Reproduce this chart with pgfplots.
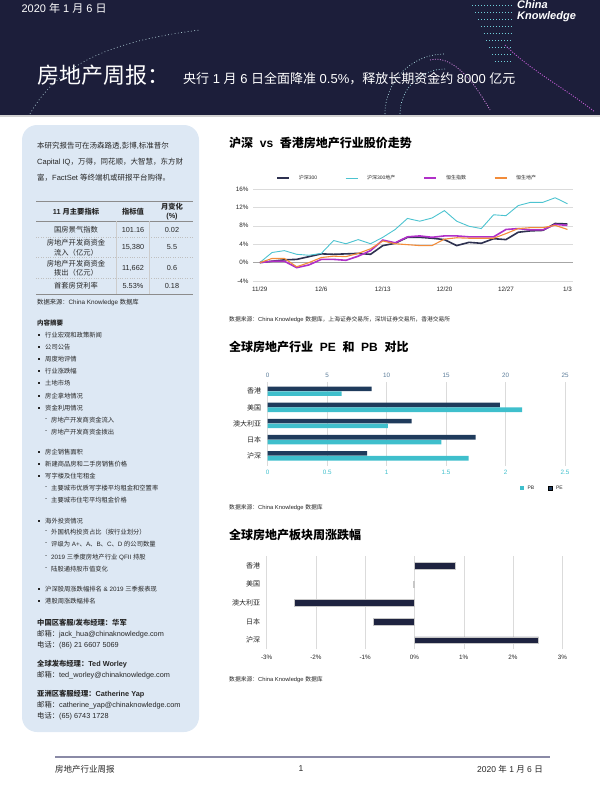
\documentclass[border=0pt]{standalone}
\usepackage{fontspec}
\setmainfont{Liberation Sans}
\newfontfamily\cjk{Noto Sans CJK SC}
\usepackage{pgfplots}
\pgfplotsset{compat=1.18}

% switch to the CJK font for runs of Chinese characters
\newXeTeXintercharclass\cjkcls
\newcount\cc
\def\setcls#1#2{\cc=#1 \loop\XeTeXcharclass\cc=\cjkcls\advance\cc by 1 \ifnum\cc<#2 \repeat}
\setcls{"3000}{"3040}
\setcls{"4E00}{"A000}
\setcls{"FF00}{"FFF0}
\XeTeXinterchartoks 0 \cjkcls={\begingroup\cjk}
\XeTeXinterchartoks 4095 \cjkcls={\begingroup\cjk}
\XeTeXinterchartoks \cjkcls 0={\endgroup}
\XeTeXinterchartoks \cjkcls 4095={\endgroup}

\newcommand\fs[2]{\fontsize{#1}{#2}\selectfont}

\definecolor{hdr}{HTML}{1C1E3A}
\definecolor{panel}{HTML}{DDE8F4}
\definecolor{txt}{HTML}{262626}
\definecolor{hs300}{HTML}{2E3150}
\definecolor{hsre}{HTML}{4CC3D0}
\definecolor{hsi}{HTML}{B030C8}
\definecolor{hsp}{HTML}{F28C3A}
\definecolor{pe}{HTML}{1F3B5C}
\definecolor{pb}{HTML}{3FBFCC}
\definecolor{wk}{HTML}{1E2340}
\definecolor{topblue}{HTML}{5B7C99}
\definecolor{foot}{HTML}{8A8AA6}

\begin{document}
\XeTeXinterchartokenstate=1
\begin{tikzpicture}
\useasboundingbox (0,0) rectangle (600pt,-800pt);
\begin{scope}[x=1pt,y=-1pt]
  % header band
  \fill[hdr] (0,0) rectangle (600,115);
  \fill[black!18] (0,115) rectangle (600,117);
  \foreach \yy in {6,13,20,27,34,41,48,55,62}
    \draw[hsre!80, line width=1pt, dash pattern=on 1pt off 2pt] (470+\yy*0.4,\yy) -- (512,\yy);
  \draw[hsi!80, line width=0.9pt, dash pattern=on 1pt off 1.5pt] (505,45) .. controls (530,70) and (560,85) .. (595,112);
  \draw[hsi!60, line width=0.8pt, dash pattern=on 1pt off 1.5pt] (430,60) .. controls (450,55) and (470,75) .. (490,110);
  \draw[hsre!50, line width=0.7pt, dash pattern=on 0.8pt off 2pt] (400,114) arc (180:270:45);
  \draw[hsre!40, line width=0.7pt, dash pattern=on 0.8pt off 2pt] (385,114) arc (180:270:60);
  \draw[hsre!30, line width=0.6pt, dash pattern=on 0.8pt off 2.5pt] (30,114) .. controls (60,60) and (120,40) .. (200,30);
  \node[anchor=west, text=white, font=\fs{11}{12}] at (18,8) {2020 年 1 月 6 日};
  \node[anchor=west, text=white, font=\fs{11}{11}\bfseries\itshape, inner sep=0] at (517,4.5) {China};
  \node[anchor=west, text=white, font=\fs{11}{11}\bfseries\itshape, inner sep=0] at (517,17) {Knowledge};
  \node[anchor=base west, text=white, font=\fs{22}{24}, inner sep=0] at (37,84) {房地产周报：};
  \node[anchor=base west, text=white, font=\fs{13}{14}, inner sep=0] at (183,83) {央行 1 月 6 日全面降准 0.5\%，释放长期资金约 8000 亿元};

  % left panel
  \fill[panel, rounded corners=15pt] (22,125) rectangle (199,732);
  \begin{scope}[every node/.style={anchor=west, inner sep=0, text=txt}]
    \node[font=\fs{7.5}{9}] at (37,146) {本研究报告可在汤森路透,彭博,标准普尔};
    \node[font=\fs{7.5}{9}] at (37,162) {Capital IQ，万得，同花顺，大智慧，东方财};
    \node[font=\fs{7.5}{9}] at (37,178) {富，FactSet 等终端机或研报平台购得。};
  \end{scope}
  % table
  \draw[black!45, line width=0.8pt] (36,201) -- (193,201);
  \draw[black!45, line width=0.8pt] (36,221) -- (193,221);
  \draw[black!45, line width=1pt] (36,294) -- (193,294);
  \foreach \yy in {237,257,278} \draw[black!25, dotted] (36,\yy) -- (193,\yy);
  \draw[black!20] (116,221) -- (116,294);
  \draw[black!20] (149,221) -- (149,294);
  \begin{scope}[every node/.style={inner sep=0, text=txt, align=center, font=\fs{7.3}{9.5}}]
    \node[font=\fs{7.3}{9.5}\bfseries] at (76,212) {11 月主要指标};
    \node[font=\fs{7.3}{9.5}\bfseries] at (133,212) {指标值};
    \node[font=\fs{7.3}{9.5}\bfseries] at (172,211.5) {月变化\\(\%)};
    \node at (76,230) {国房景气指数};
    \node at (133,230) {101.16};
    \node at (172,230) {0.02};
    \node at (76,247.5) {房地产开发商资金\\流入（亿元）};
    \node at (133,247.5) {15,380};
    \node at (172,247.5) {5.5};
    \node at (76,268) {房地产开发商资金\\拨出（亿元）};
    \node at (133,268) {11,662};
    \node at (172,268) {0.6};
    \node at (76,286) {首套房贷利率};
    \node at (133,286) {5.53\%};
    \node at (172,286) {0.18};
  \end{scope}
  \begin{scope}[every node/.style={anchor=west, inner sep=0, text=txt, font=\fs{6.3}{8}}]
    \node at (37,303) {数据来源：China Knowledge 数据库};
    \node[font=\fs{6.5}{8}\bfseries] at (37,323) {内容摘要};
    \foreach \yy/\tt in {335/行业宏观和政策新闻, 347/公司公告, 359/周度地评情, 371/行业涨跌幅,
        383/土地市场, 396/房企拿地情况, 408/资金利用情况, 452/房企销售面积,
        464/新建商品房和二手房销售价格, 476/写字楼及住宅租金, 521/海外投资情况,
        589/沪深股周涨跌幅排名 \& 2019 三季报表现, 601/港股周涨跌幅排名} {
      \fill[txt] (38,\yy-1) rectangle ++(2,2);
      \node at (45,\yy) {\tt};
    }
    \foreach \yy/\tt in {420/房地产开发商资金流入, 432/房地产开发商资金拨出,
        488/主要城市优质写字楼平均租金和空置率, 500/主要城市住宅平均租金价格,
        532/外国机构投资占比（按行业划分）, 544/评级为 A+、A、B、C、D 的公司数量,
        557/2019 三季度房地产行业 QFII 持股, 569/陆股通持股市值变化} {
      \node at (45,\yy) {-};
      \node at (51,\yy) {\tt};
    }
  \end{scope}
  \begin{scope}[every node/.style={anchor=west, inner sep=0, text=txt, font=\fs{7.3}{9}}]
    \node[font=\fs{7.3}{9}\bfseries] at (37,623) {中国区客服/发布经理：华军};
    \node at (37,634) {邮箱：jack\_hua@chinaknowledge.com};
    \node at (37,645) {电话：(86) 21 6607 5069};
    \node[font=\fs{7.3}{9}\bfseries] at (37,664) {全球发布经理：Ted Worley};
    \node at (37,675) {邮箱：ted\_worley@chinaknowledge.com};
    \node[font=\fs{7.3}{9}\bfseries] at (37,694) {亚洲区客服经理：Catherine Yap};
    \node at (37,705) {邮箱：catherine\_yap@chinaknowledge.com};
    \node at (37,716) {电话：(65) 6743 1728};
  \end{scope}

  % section titles and sources
  \begin{scope}[every node/.style={anchor=west, inner sep=0, text=black}]
    \node[font=\fs{12}{14}\bfseries] at (229,143) {沪深 \ vs \ 香港房地产行业股价走势};
    \node[font=\fs{12}{14}\bfseries] at (229,347) {全球房地产行业 \ PE \ 和 \ PB \ 对比};
    \node[font=\fs{12}{14}\bfseries] at (229,535) {全球房地产板块周涨跌幅};
    \node[font=\fs{5.8}{7}, text=txt] at (229,320) {数据来源：China Knowledge 数据库，上海证券交易所，深圳证券交易所，香港交易所};
    \node[font=\fs{5.8}{7}, text=txt] at (229,508) {数据来源：China Knowledge 数据库};
    \node[font=\fs{5.8}{7}, text=txt] at (229,680) {数据来源：China Knowledge 数据库};
  \end{scope}

  % footer
  \draw[foot, line width=1.2pt] (55,757) -- (550,757);
  \node[anchor=west, inner sep=0, text=txt, font=\fs{8.5}{10}] at (55,769) {房地产行业周报};
  \node[inner sep=0, text=txt, font=\fs{8.5}{10}] at (301,769) {1};
  \node[anchor=east, inner sep=0, text=txt, font=\fs{8.5}{10}] at (543,769) {2020 年 1 月 6 日};
\end{scope}

% line chart
\begin{axis}[
  at={(253pt,-281pt)}, anchor=south west, scale only axis,
  width=320pt, height=92pt,
  xmin=-0.55, xmax=25.45, ymin=-4, ymax=16,
  axis line style={draw=none}, major tick length=0pt,
  ymajorgrids, grid style={color=black!14, line width=0.5pt},
  ytick={-4,0,4,8,12,16}, yticklabels={-4\%,0\%,4\%,8\%,12\%,16\%},
  xtick={0,5,10,15,20,25}, xticklabels={11/29,12/6,12/13,12/20,12/27,1/3},
  tick label style={font=\fs{6.3}{7}, text=txt},
  yticklabel style={xshift=-1pt},
  xticklabel style={yshift=-2pt},
  extra y ticks={0}, extra y tick labels={},
  extra y tick style={grid style={color=black!35, line width=0.6pt}},
  legend columns=4,
  legend image code/.code={\draw[#1] (0pt,0pt) -- (12pt,0pt);},
  legend style={at={(rel axis cs:0.072,1)}, anchor=south west, yshift=6pt,
    draw=none, fill=none, font=\fs{5}{6}, text=txt, inner sep=0pt,
    /tikz/every odd column/.append style={column sep=7pt},
    /tikz/every even column/.append style={column sep=26pt}},
]
\addplot[hs300, line width=1.6pt] coordinates {
(0,0) (1,0.3) (2,0.6) (3,0.7) (4,1.3) (5,1.9) (6,1.8) (7,1.9) (8,2.0) (9,1.8)
(10,3.7) (11,4.2) (12,5.5) (13,5.5) (14,5.3) (15,5.0) (16,3.7) (17,4.4) (18,4.2)
(19,5.2) (20,5.0) (21,6.6) (22,6.9) (23,7.0) (24,8.5) (25,8.4)};
\addlegendentry{沪深300}
\addplot[hsre, line width=0.9pt] coordinates {
(0,0) (1,2.2) (2,2.6) (3,1.8) (4,1.6) (5,2.0) (6,4.8) (7,4.1) (8,5.0) (9,4.1)
(10,5.5) (11,7.2) (12,9.6) (13,9.0) (14,9.7) (15,11.3) (16,9.0) (17,7.9) (18,7.4)
(19,10.4) (20,10.2) (21,12.4) (22,13.1) (23,13.1) (24,14.1) (25,12.8)};
\addlegendentry{沪深300地产}
\addplot[hsi, line width=1.6pt] coordinates {
(0,0) (1,0.3) (2,0.3) (3,-1.1) (4,-0.5) (5,0.7) (6,0.7) (7,0.5) (8,1.4) (9,2.6)
(10,4.9) (11,4.3) (12,5.6) (13,5.8) (14,5.5) (15,5.8) (16,5.8) (17,5.6) (18,5.6)
(19,5.6) (20,7.2) (21,7.4) (22,7.1) (23,7.1) (24,8.3) (25,8.1)};
\addlegendentry{恒生指数}
\addplot[hsp, line width=1.1pt] coordinates {
(0,0) (1,0.9) (2,0.9) (3,-0.9) (4,0.0) (5,1.1) (6,1.4) (7,1.3) (8,2.0) (9,3.0)
(10,4.7) (11,4.1) (12,3.9) (13,3.7) (14,3.7) (15,5.1) (16,5.4) (17,5.3) (18,5.3)
(19,5.3) (20,6.3) (21,7.4) (22,7.6) (23,7.6) (24,8.1) (25,7.2)};
\addlegendentry{恒生地产}
\end{axis}

% PE (top axis)
\begin{axis}[
  at={(267.7pt,-465.5pt)}, anchor=south west, scale only axis,
  width=297.3pt, height=84pt,
  xmin=0, xmax=25, ymin=-0.6, ymax=4.6,
  axis x line*=top, axis y line*=left,
  axis line style={draw=none}, major tick length=0pt,
  xmajorgrids, grid style={color=black!14, line width=0.5pt},
  xtick={0,5,10,15,20,25}, xticklabels={0,5,10,15,20,25},
  ytick={0,1,2,3,4}, yticklabels={沪深,日本,澳大利亚,美国,香港},
  xticklabel style={font=\fs{6.3}{7}, text=topblue},
  yticklabel style={font=\fs{7}{8}, text=txt, xshift=-3pt},
  xbar, bar width=4.6pt,
]
\addplot[fill=pe, draw=none, bar shift=2.4pt] coordinates {
(8.74,4) (19.53,3) (12.1,2) (17.49,1) (8.35,0)};
\end{axis}

% PB (bottom axis)
\begin{axis}[
  at={(267.7pt,-465.5pt)}, anchor=south west, scale only axis,
  width=297.3pt, height=84pt,
  xmin=0, xmax=2.5, ymin=-0.6, ymax=4.6,
  axis x line*=bottom, axis y line=none,
  axis line style={draw=none}, major tick length=0pt,
  xtick={0,0.5,1,1.5,2,2.5}, xticklabels={0,0.5,1,1.5,2,2.5},
  xticklabel style={font=\fs{6.3}{7}, text=pb, yshift=-1pt},
  xbar, bar width=4.6pt,
  legend columns=2,
  legend image code/.code={\fill[#1] (0pt,-2pt) rectangle (4pt,2pt);},
  legend style={at={(rel axis cs:1,0)}, anchor=north east, yshift=-18pt,
    draw=none, fill=none, font=\fs{5}{6}, text=txt, inner sep=0pt,
    /tikz/every odd column/.append style={column sep=1.5pt},
    /tikz/every even column/.append style={column sep=12pt}},
]
\addplot[fill=pb, draw=none, bar shift=-2.4pt] coordinates {
(0.622,4) (2.14,3) (1.01,2) (1.46,1) (1.69,0)};
\addlegendentry{PB}
\addlegendimage{fill=pe}
\addlegendentry{PE}
\end{axis}

% weekly change
\begin{axis}[
  at={(266.7pt,-649.4pt)}, anchor=south west, scale only axis,
  width=295.6pt, height=93pt,
  xmin=-3, xmax=3, ymin=-0.5, ymax=4.5,
  axis line style={draw=none}, major tick length=0pt,
  xmajorgrids, grid style={color=black!14, line width=0.5pt},
  xtick={-3,-2,-1,0,1,2,3}, xticklabels={-3\%,-2\%,-1\%,0\%,1\%,2\%,3\%},
  ytick={0,1,2,3,4}, yticklabels={沪深,日本,澳大利亚,美国,香港},
  xticklabel style={font=\fs{6.3}{7}, text=txt, yshift=-2pt},
  yticklabel style={font=\fs{7}{8}, text=txt, xshift=-3pt},
  xbar, bar width=6.6pt,
]
\addplot[fill=wk, draw=black!22, line width=0.6pt] coordinates {
(2.52,0) (-0.83,1) (-2.43,2) (-0.03,3) (0.83,4)};
\end{axis}
\end{tikzpicture}
\end{document}
